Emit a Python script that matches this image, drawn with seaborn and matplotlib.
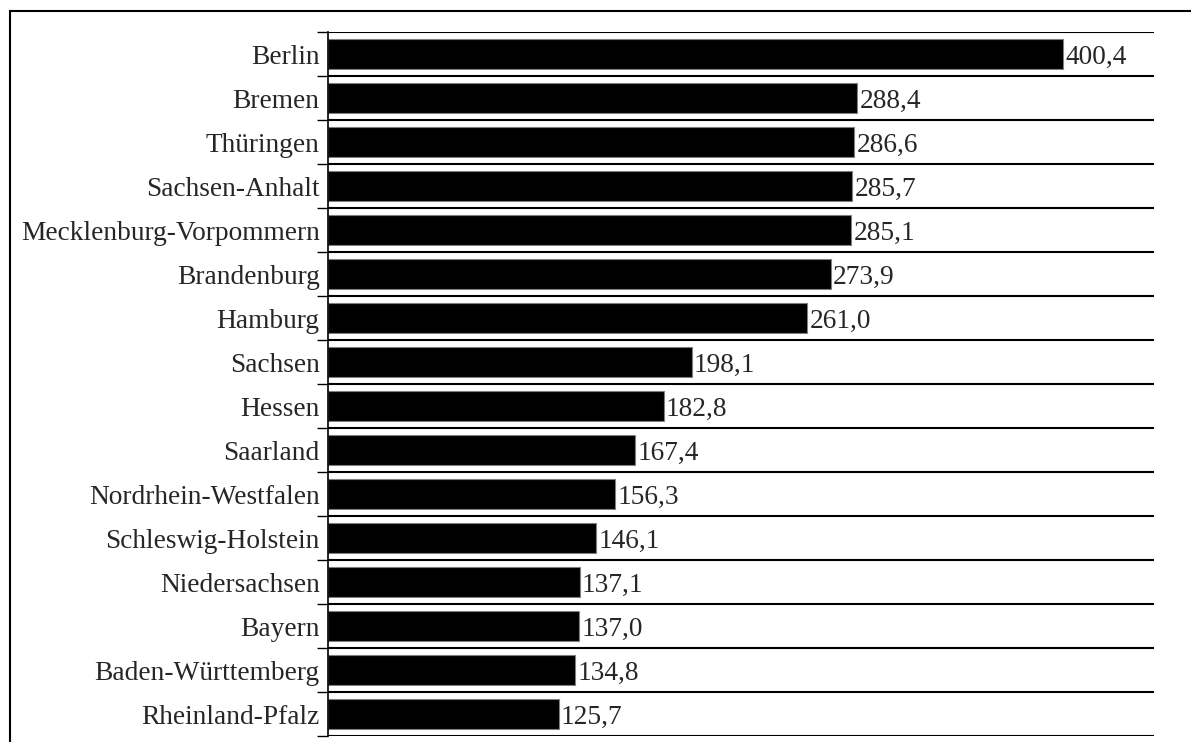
import numpy as np
import pandas as pd
import matplotlib
matplotlib.use("Agg")
import matplotlib.pyplot as plt
from matplotlib.patches import Rectangle
import seaborn as sns

laender = ['Berlin', 'Bremen', 'Thüringen', 'Sachsen-Anhalt', 'Mecklenburg-Vorpommern',
           'Brandenburg', 'Hamburg', 'Sachsen', 'Hessen', 'Saarland', 'Nordrhein-Westfalen',
           'Schleswig-Holstein', 'Niedersachsen', 'Bayern', 'Baden-Württemberg', 'Rheinland-Pfalz']
werte = [400.4, 288.4, 286.6, 285.7, 285.1, 273.9, 261.0, 198.1, 182.8, 167.4, 156.3,
         146.1, 137.1, 137.0, 134.8, 125.7]

df = pd.DataFrame({'land': laender, 'wert': werte})

sns.set_style("white")
plt.rcParams['font.family'] = ['Liberation Serif', 'DejaVu Serif']
fs = 19.7

fig = plt.figure(figsize=(11.91, 7.42), dpi=100)
ax = fig.add_axes([328/1191, 1 - 736/742, (1154-328)/1191, (736-32)/742])

sns.barplot(data=df, x='wert', y='land', ax=ax, color='black', width=0.7,
            edgecolor='#808080', linewidth=0.8, saturation=1, orient='h')

ax.set_xlim(0, 450)
ax.set_ylim(len(laender) - 0.5, -0.5)

# value labels with german decimal comma
for i, v in enumerate(werte):
    ax.text(v + 1.2, i, f'{v:.1f}'.replace('.', ','), va='center_baseline', ha='left', fontsize=fs)

# gridlines between the categories
ax.set_yticks(np.arange(-0.5, len(laender), 1), minor=True)
ax.grid(axis='y', which='minor', color='black', lw=1.5)
ax.grid(axis='x', visible=False)
ax.tick_params(axis='y', which='minor', length=8, width=1, color='black', left=True)
ax.tick_params(axis='y', which='major', length=0, pad=6, labelsize=fs)
ax.tick_params(axis='x', bottom=False, labelbottom=False)
ax.set_xlabel('')
ax.set_ylabel('')

for s in ['top', 'right', 'bottom']:
    ax.spines[s].set_visible(False)
ax.spines['left'].set_color('black')
ax.spines['left'].set_linewidth(1.2)

# outer frame (clipped at right and bottom)
fig.patches.append(Rectangle((9.5/1191, -0.2), 1.5, 1.2 - 11/742, transform=fig.transFigure,
                             fill=False, edgecolor='black', lw=1.5))

fig.savefig('out.png', dpi=100)
